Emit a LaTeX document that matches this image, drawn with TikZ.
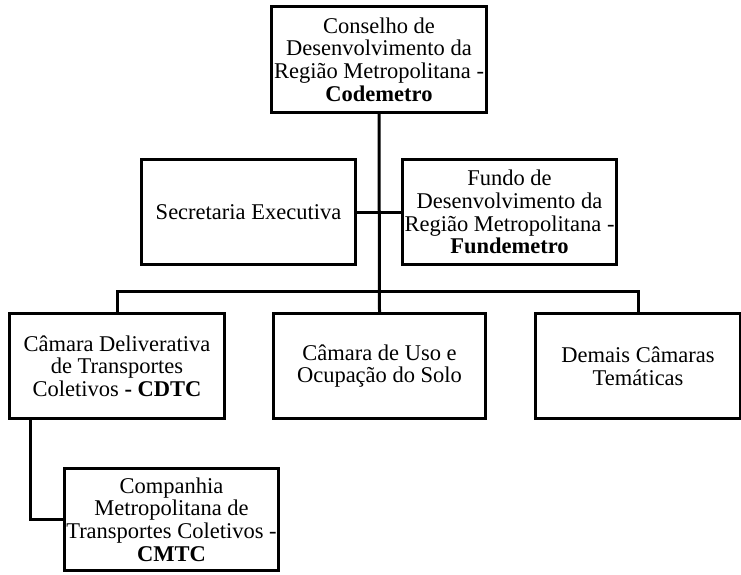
\documentclass[tikz,border=0pt]{standalone}
\usepackage{fontspec}
\setmainfont{Liberation Serif}
\usetikzlibrary{positioning}
\begin{document}
\begin{tikzpicture}[x=1pt,y=-1pt]

\tikzset{orgbox/.style={draw, line width=3pt, inner sep=0pt, align=center,
    minimum width=214pt, minimum height=105pt,
    font=\fontsize{22.5}{22.7}\selectfont},
  link/.style={line width=3pt}}

\useasboundingbox (0,0) rectangle (741,574);

\node[orgbox, minimum width=215pt, minimum height=106pt] (codemetro) at (379,59.5)
  {Conselho de\\Desenvolvimento da\\Região Metropolitana -\\\textbf{Codemetro}};
\node[orgbox] (secretaria) at (248.5,212) {Secretaria Executiva};
\node[orgbox] (fundemetro) at (509.5,212)
  {Fundo de\\Desenvolvimento da\\Região Metropolitana -\\\textbf{Fundemetro}};
\node[orgbox, minimum width=215pt] (cdtc) at (117,366)
  {Câmara Deliverativa\\de Transportes\\Coletivos \textbf{- CDTC}};
\node[orgbox, minimum width=212pt] (uso) at (379.5,366)
  {Câmara de Uso e\\Ocupação do Solo};
\node[orgbox, minimum width=205pt] (demais) at (638,366)
  {Demais Câmaras\\Temáticas};
\node[orgbox, minimum height=102pt] (cmtc) at (171.5,519.5)
  {Companhia\\Metropolitana de\\Transportes Coletivos -\\\textbf{CMTC}};

\coordinate (bus) at (379,291);

\draw[link] (codemetro.south) -- (uso.north);
\draw[link] (secretaria.east) -- (fundemetro.west);
\draw[link] (cdtc.north) |- (bus) -| (demais.north);
\draw[link] ([xshift=22pt]cdtc.south west) |- (cmtc.west);

\end{tikzpicture}
\end{document}
